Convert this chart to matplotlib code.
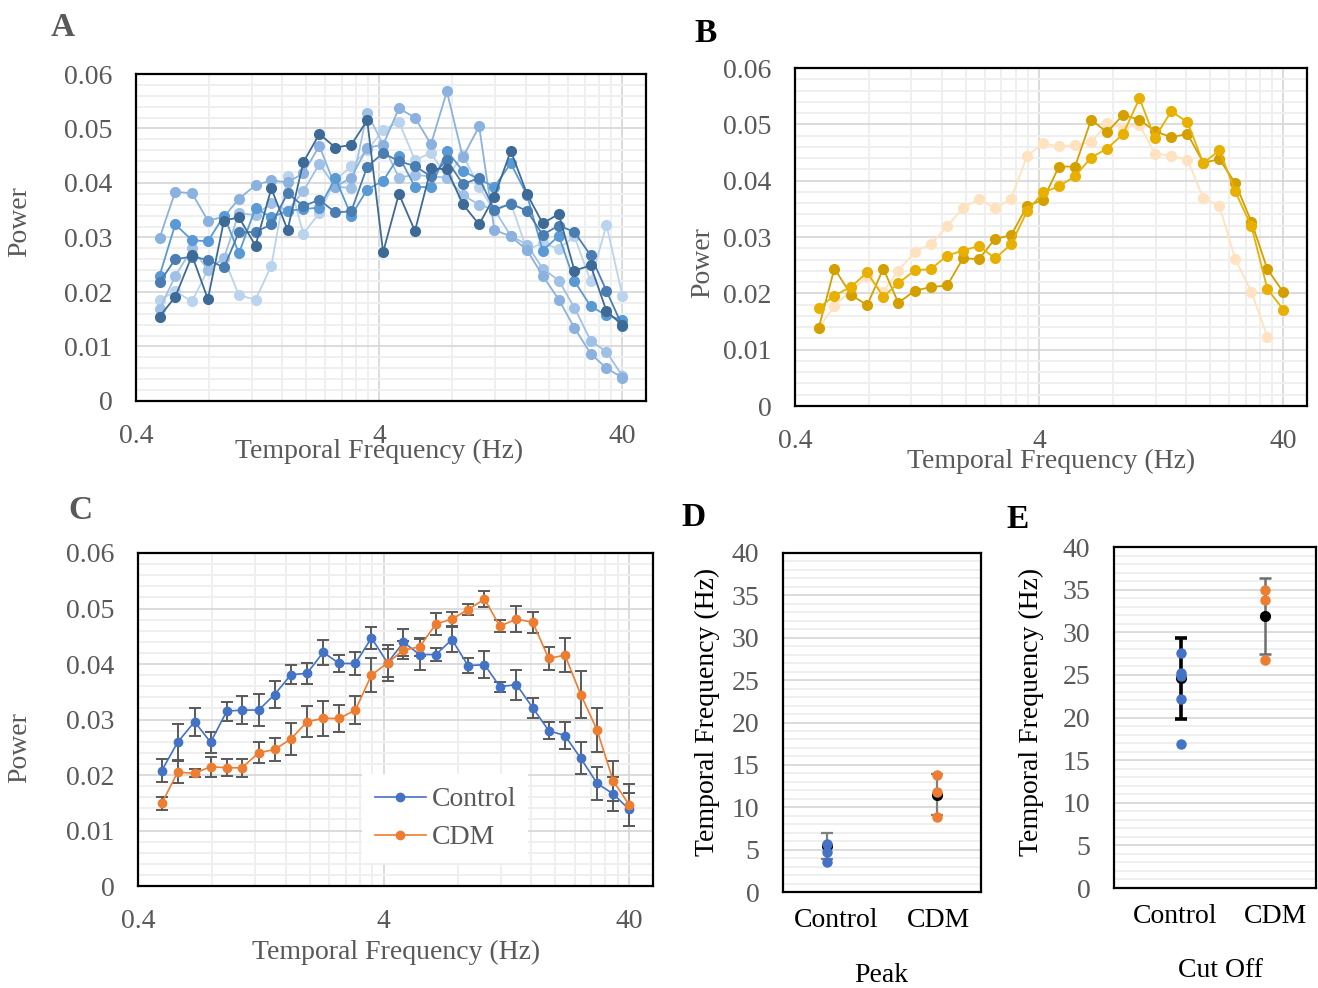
import matplotlib
matplotlib.use('Agg')
import matplotlib.pyplot as plt
import matplotlib.transforms as mtransforms
import numpy as np
from matplotlib.ticker import FixedLocator, MultipleLocator, FuncFormatter, NullFormatter

plt.rcParams['font.family'] = ['Liberation Serif', 'DejaVu Serif']

# temporal frequencies (Hz), shared by panels A-C
freq = [0.5, 0.58, 0.68, 0.79, 0.92, 1.06, 1.24, 1.44, 1.68, 1.95,
        2.27, 2.64, 3.07, 3.57, 4.15, 4.82, 5.61, 6.53, 7.59, 8.83,
        10.3, 11.9, 13.9, 16.2, 18.8, 21.9, 25.4, 29.6, 34.4, 40.0]

# panel A - control animals
a_1 = [0.0155, 0.0191, 0.0267, 0.0187, 0.0331, 0.0337, 0.0285, 0.0390, 0.0314, 0.0438,
       0.0490, 0.0465, 0.0470, 0.0515, 0.0273, 0.0380, 0.0312, 0.0427, 0.0425, 0.0361,
       0.0324, 0.0375, 0.0459, 0.0380, 0.0326, 0.0343, 0.0239, 0.0249, 0.0165, 0.0139]
a_2 = [0.0218, 0.0260, 0.0265, 0.0259, 0.0245, 0.0310, 0.0310, 0.0324, 0.0381, 0.0358,
       0.0369, 0.0346, 0.0348, 0.0430, 0.0455, 0.0440, 0.0431, 0.0412, 0.0442, 0.0398,
       0.0409, 0.0351, 0.0362, 0.0349, 0.0305, 0.0322, 0.0310, 0.0267, 0.0202, 0.0137]
a_3 = [0.0230, 0.0324, 0.0295, 0.0293, 0.0340, 0.0271, 0.0354, 0.0337, 0.0349, 0.0352,
       0.0355, 0.0409, 0.0340, 0.0388, 0.0404, 0.0449, 0.0393, 0.0392, 0.0459, 0.0422,
       0.0407, 0.0393, 0.0436, 0.0378, 0.0276, 0.0303, 0.0220, 0.0174, 0.0157, 0.0149]
a_4 = [0.0299, 0.0384, 0.0381, 0.0331, 0.0338, 0.0371, 0.0396, 0.0405, 0.0401, 0.0418,
       0.0468, 0.0393, 0.0410, 0.0465, 0.0470, 0.0537, 0.0520, 0.0471, 0.0568, 0.0447,
       0.0504, 0.0314, 0.0302, 0.0277, 0.0230, 0.0186, 0.0134, 0.0087, 0.0060, 0.0043]
a_5 = [0.0169, 0.0229, 0.0280, 0.0241, 0.0262, 0.0345, 0.0341, 0.0363, 0.0349, 0.0385,
       0.0435, 0.0393, 0.0391, 0.0529, 0.0470, 0.0410, 0.0415, 0.0412, 0.0410, 0.0378,
       0.0360, 0.0351, 0.0303, 0.0287, 0.0243, 0.0221, 0.0171, 0.0111, 0.0090, 0.0046]
a_6 = [0.0185, 0.0201, 0.0183, 0.0241, 0.0262, 0.0194, 0.0186, 0.0248, 0.0413, 0.0307,
       0.0345, 0.0405, 0.0431, 0.0460, 0.0497, 0.0512, 0.0442, 0.0455, 0.0410, 0.0451,
       0.0393, 0.0348, 0.0363, 0.0277, 0.0290, 0.0279, 0.0302, 0.0220, 0.0323, 0.0193]

# panel B - CDM animals
b_dark = [0.0138, 0.0244, 0.0197, 0.0179, 0.0244, 0.0183, 0.0205, 0.0211, 0.0214, 0.0262,
          0.0261, 0.0297, 0.0303, 0.0355, 0.0366, 0.0425, 0.0425, 0.0508, 0.0486, 0.0517,
          0.0508, 0.0488, 0.0477, 0.0483, 0.0432, 0.0438, 0.0396, 0.0327, 0.0243, 0.0202]
b_gold = [0.0174, 0.0196, 0.0212, 0.0237, 0.0194, 0.0218, 0.0241, 0.0243, 0.0267, 0.0276,
          0.0284, 0.0262, 0.0287, 0.0346, 0.0379, 0.0390, 0.0408, 0.0441, 0.0457, 0.0483,
          0.0546, 0.0476, 0.0523, 0.0504, 0.0431, 0.0454, 0.0381, 0.0319, 0.0208, 0.0171]
b_peach = [0.0138, 0.0178, 0.0205, 0.0230, 0.0203, 0.0240, 0.0274, 0.0287, 0.0319, 0.0352,
           0.0367, 0.0351, 0.0368, 0.0444, 0.0466, 0.0461, 0.0463, 0.0468, 0.0502, 0.0494,
           0.0499, 0.0448, 0.0444, 0.0437, 0.0369, 0.0355, 0.0261, 0.0203, 0.0123, np.nan]

# panel C - group means with error
ctrl = [0.0208, 0.0259, 0.0296, 0.0259, 0.0315, 0.0317, 0.0317, 0.0345, 0.0381, 0.0383,
        0.0421, 0.0401, 0.0401, 0.0447, 0.0402, 0.0439, 0.0417, 0.0417, 0.0444, 0.0397,
        0.0399, 0.0359, 0.0363, 0.0321, 0.0280, 0.0271, 0.0230, 0.0185, 0.0166, 0.0138]
ctrl_err = [0.0020, 0.0032, 0.0025, 0.0019, 0.0017, 0.0026, 0.0029, 0.0024, 0.0017, 0.0019,
            0.0023, 0.0015, 0.0020, 0.0020, 0.0025, 0.0024, 0.0028, 0.0011, 0.0023, 0.0014,
            0.0025, 0.0009, 0.0027, 0.0018, 0.0015, 0.0025, 0.0029, 0.0030, 0.0030, 0.0029]
cdm = [0.0149, 0.0205, 0.0203, 0.0215, 0.0213, 0.0213, 0.0240, 0.0246, 0.0265, 0.0296,
       0.0302, 0.0302, 0.0317, 0.0380, 0.0402, 0.0425, 0.0431, 0.0472, 0.0481, 0.0498,
       0.0517, 0.0468, 0.0481, 0.0475, 0.0410, 0.0416, 0.0345, 0.0281, 0.0190, 0.0146]
cdm_err = [0.0012, 0.0020, 0.0007, 0.0018, 0.0015, 0.0016, 0.0019, 0.0021, 0.0029, 0.0028,
           0.0032, 0.0025, 0.0025, 0.0031, 0.0032, 0.0016, 0.0016, 0.0020, 0.0013, 0.0010,
           0.0014, 0.0011, 0.0023, 0.0019, 0.0021, 0.0031, 0.0043, 0.0040, 0.0036, 0.0038]

# panels D and E
groups = ['Control', 'CDM']
peak_ctrl = [5.7, 4.7, 3.5]
peak_cdm = [13.8, 11.8, 8.8]
peak_mean = [5.4, 11.5]
peak_err = [1.53, 2.45]
cut_ctrl = [27.6, 25.2, 24.9, 22.2, 16.9]
cut_cdm = [35.0, 33.8, 26.7]
cut_mean = [24.6, 31.9]
cut_err = [4.75, 4.45]

GRAY = '#595959'
FS = 20
W, H = 1318, 988

fig = plt.figure(figsize=(W / 100, H / 100), dpi=100)


def box(l, t, r, b):
    return [l / W, 1 - b / H, (r - l) / W, (b - t) / H]


def ftext(x, y, s, **kw):
    fig.text(x / W, 1 - y / H, s, ha='center', va='center', **kw)


def frame(ax):
    for sp in ax.spines.values():
        sp.set_color('black')
        sp.set_linewidth(1.6)
    ax.set_axisbelow(True)
    ax.tick_params(which='both', length=0, labelsize=FS, labelcolor=GRAY)


def power_axes(rect):
    ax = fig.add_axes(rect)
    ax.set_xscale('log')
    ax.set_xlim(0.4, 50)
    ax.set_ylim(0, 0.06)
    ax.xaxis.set_major_locator(FixedLocator([0.4, 4, 40]))
    ax.xaxis.set_minor_locator(FixedLocator([0.4 * k for k in range(2, 10)] +
                                            [4 * k for k in range(2, 10)]))
    ax.xaxis.set_major_formatter(FuncFormatter(lambda v, p: '%g' % v))
    ax.xaxis.set_minor_formatter(NullFormatter())
    ax.yaxis.set_major_locator(MultipleLocator(0.01))
    ax.yaxis.set_minor_locator(MultipleLocator(0.002))
    ax.yaxis.set_major_formatter(FuncFormatter(lambda v, p: '%g' % round(v, 3)))
    ax.grid(which='minor', color='#EFEFEF', lw=1.4)
    ax.grid(which='major', color='#D6D6D6', lw=1.2)
    frame(ax)
    ax.tick_params(axis='x', pad=16.5)
    ax.tick_params(axis='y', pad=17)
    return ax


# ---- A
axA = power_axes(box(136, 74, 646, 401))
a_cols = ['#BBD4EE', '#A0C1E6', '#8BB2DE', '#5A9AD4', '#4A7DB2', '#3D6A96']
for ys, c in zip([a_6, a_5, a_4, a_3, a_2, a_1], a_cols):
    axA.plot(freq, ys, color=c, marker='o', ms=7, lw=1.3)
ftext(379, 451, 'Temporal Frequency (Hz)', fontsize=FS, color=GRAY)
ftext(20, 222, 'Power', fontsize=FS, color=GRAY, rotation=90)
ftext(63, 28, 'A', fontsize=24, fontweight='bold', color=GRAY)

# ---- B
axB = power_axes(box(795, 68, 1307, 406))
for ys, c in zip([b_peach, b_dark, b_gold], ['#FFE2BF', '#D4A000', '#E8B000']):
    axB.plot(freq, ys, color=c, marker='o', ms=7, lw=1.3)
ftext(1051, 461, 'Temporal Frequency (Hz)', fontsize=FS, color=GRAY)
ftext(703, 263, 'Power', fontsize=FS, color=GRAY, rotation=90)
ftext(706, 33, 'B', fontsize=24, fontweight='bold', color='black')

# ---- C
axC = power_axes(box(138, 553, 653, 886))
axC.errorbar(freq, ctrl, yerr=ctrl_err, fmt='none', ecolor=GRAY, elinewidth=1.4,
             capsize=4, capthick=1.4)
axC.errorbar(freq, cdm, yerr=cdm_err, fmt='none', ecolor=GRAY, elinewidth=1.4,
             capsize=4, capthick=1.4)
axC.plot(freq, ctrl, color='#4472C4', marker='o', ms=6, lw=1.2, label='Control')
axC.plot(freq, cdm, color='#ED7D31', marker='o', ms=6, lw=1.2, label='CDM')
leg = axC.legend(loc='upper left', bbox_to_anchor=(0.435, 0.335), borderaxespad=0,
                 fontsize=FS, labelcolor=GRAY, frameon=True, fancybox=False,
                 handlelength=1.85, handletextpad=0.2, labelspacing=0.45, borderpad=0.45)
leg.get_frame().set_edgecolor('none')
leg.get_frame().set_facecolor('white')
leg.get_frame().set_alpha(1)
ftext(396, 952, 'Temporal Frequency (Hz)', fontsize=FS, color=GRAY)
ftext(20, 748, 'Power', fontsize=FS, color=GRAY, rotation=90)
ftext(80, 510, 'C', fontsize=24, fontweight='bold', color=GRAY)


# ---- D and E
def tf_axes(rect, xlim, shifts):
    ax = fig.add_axes(rect)
    ax.set_ylim(0, 40)
    ax.set_xlim(*xlim)
    ax.yaxis.set_major_locator(MultipleLocator(5))
    ax.yaxis.set_minor_locator(MultipleLocator(1))
    ax.grid(axis='y', which='minor', color='#EFEFEF', lw=1.4)
    ax.grid(axis='y', which='major', color='#D6D6D6', lw=1.2)
    frame(ax)
    ax.set_xticks([0, 1])
    ax.set_xticklabels(groups)
    ax.tick_params(axis='x', labelcolor='black', pad=11.5)
    ax.tick_params(axis='y', pad=17)
    # nudge category labels sideways like the original layout
    for lab, dx in zip(ax.get_xticklabels(), shifts):
        off = mtransforms.ScaledTranslation(dx / 100, 0, fig.dpi_scale_trans)
        lab.set_transform(lab.get_transform() + off)
    return ax


axD = tf_axes(box(783, 553, 981, 892), (-0.4, 1.4), (9, 1))
axD.errorbar([0], [peak_mean[0]], yerr=[peak_err[0]], fmt='none', ecolor='#7F7F7F',
             elinewidth=1.6, capsize=4, capthick=1.6)
axD.errorbar([1], [peak_mean[1]], yerr=[peak_err[1]], fmt='none', ecolor='#7F7F7F',
             elinewidth=1.6, capsize=4, capthick=1.6)
axD.plot([0, 1], peak_mean, 'o', color='black', ms=7, zorder=3)
axD.plot([0] * len(peak_ctrl), peak_ctrl, 'o', color='#4472C4', ms=6.5, zorder=4)
axD.plot([1] * len(peak_cdm), peak_cdm, 'o', color='#ED7D31', ms=6.5, zorder=4)
ftext(881, 975, 'Peak', fontsize=FS, color='black')
ftext(707, 712, 'Temporal Frequency (Hz)', fontsize=FS, color='black', rotation=90)
ftext(693, 518, 'D', fontsize=24, fontweight='bold', color='black')

axE = tf_axes(box(1114, 547, 1316, 888), (-0.79, 1.6), (-6, 10))
axE.errorbar([0], [cut_mean[0]], yerr=[cut_err[0]], fmt='none', ecolor='black',
             elinewidth=2.6, capsize=4.6, capthick=2.6)
axE.errorbar([1], [cut_mean[1]], yerr=[cut_err[1]], fmt='none', ecolor='#6E6E6E',
             elinewidth=1.8, capsize=4, capthick=1.8)
axE.plot([0, 1], cut_mean, 'o', color='black', ms=7, zorder=3)
axE.plot([0] * len(cut_ctrl), cut_ctrl, 'o', color='#4472C4', ms=6.5, zorder=4)
axE.plot([1] * len(cut_cdm), cut_cdm, 'o', color='#ED7D31', ms=6.5, zorder=4)
ftext(1220, 970, 'Cut Off', fontsize=FS, color='black')
ftext(1031, 712, 'Temporal Frequency (Hz)', fontsize=FS, color='black', rotation=90)
ftext(1018, 520, 'E', fontsize=24, fontweight='bold', color='black')

fig.savefig('out.png', dpi=100)
